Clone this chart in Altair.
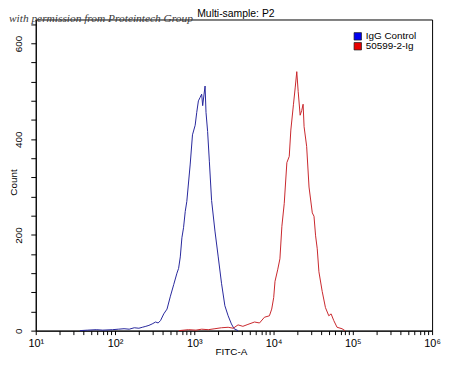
import altair as alt
import pandas as pd

title_text = "Multi-sample: P2"
watermark_text = "with permission from Proteintech Group"
x_title = "FITC-A"
y_title = "Count"
series_names = ["IgG Control", "50599-2-Ig"]
line_colors = ["#26269c", "#c8262c"]
legend_colors = ["#0000f0", "#e80000"]

blue_fitc = [36, 45, 58, 70, 93, 110, 130, 151, 175, 200,
             221, 245, 268, 294, 325, 350, 375, 412, 453, 500,
             550, 604, 634, 666, 698, 732, 769, 805, 889, 949,
             1026, 1074, 1127, 1183, 1239, 1276, 1328, 1368, 1406, 1473,
             1549, 1653, 1823, 2005, 2205, 2431, 2673, 2941, 3177, 3565]
blue_count = [0, 1, 2, 1, 2, 3, 4, 3, 6, 5,
              7, 9, 11, 14, 18, 16, 21, 35, 45, 72,
              96, 120, 130, 154, 194, 215, 249, 270, 348, 409,
              429, 456, 480, 487, 494, 470, 494, 511, 456, 416,
              354, 272, 208, 154, 99, 52, 31, 14, 4, 0]

red_fitc = [638, 845, 1050, 1239, 1500, 1823, 2200, 2673, 3100, 3565,
            4100, 4753, 5757, 6650, 7680, 8870, 9480, 10040, 10430, 11270,
            12030, 12740, 13650, 14060, 14720, 15770, 16520, 17840, 18740, 19630,
            20440, 21650, 22670, 23590, 24280, 26150, 28020, 30820, 32370, 33920,
            35570, 37340, 41080, 45170, 49780, 53200, 57500, 63240, 73000, 79600]
red_count = [0, 2, 1, 3, 2, 4, 6, 7, 5, 12,
             9, 13, 18, 16, 28, 31, 45, 69, 103, 127,
             150, 218, 266, 300, 351, 364, 419, 473, 507, 541,
             500, 450, 460, 473, 426, 385, 300, 246, 239, 198,
             171, 123, 82, 48, 31, 35, 21, 7, 4, 0]

x_decades = [10, 100, 1000, 10000, 100000, 1000000]
x_tick_labels = ["10¹", "10²", "10³", "10⁴", "10⁵", "10⁶"]
y_label_step = 200
y_tick_step = 40
y_max = 650

W, H = 400, 314
FONT = "Liberation Sans"

df = pd.concat([
    pd.DataFrame({"fitc": blue_fitc, "count": blue_count, "series": series_names[0]}),
    pd.DataFrame({"fitc": red_fitc, "count": red_count, "series": series_names[1]}),
], ignore_index=True)

x_values = [m * d for d in x_decades[:-1] for m in range(1, 10)] + [x_decades[-1]]
x_label_expr = " : ".join(
    f"datum.value == {d} ? '{l}'" for d, l in zip(x_decades, x_tick_labels)
) + " : ''"
y_values = list(range(0, y_max, y_tick_step))
y_label_expr = f"datum.value % {y_label_step} == 0 ? datum.label : ''"

lines = alt.Chart(df).mark_line(strokeWidth=1, interpolate="linear").encode(
    x=alt.X(
        "fitc:Q",
        scale=alt.Scale(type="log", domain=[10, 1000000], nice=False),
        axis=alt.Axis(
            values=x_values, labelExpr=x_label_expr, title=x_title,
            tickSize=4, labelPadding=3, labelFontSize=11, titleFontSize=10,
            labelFlush=False, grid=False, labelAlign="center",
            titleX=197, titleY=24, titleBaseline="alphabetic",
        ),
    ),
    y=alt.Y(
        "count:Q",
        scale=alt.Scale(domain=[0, y_max], nice=False),
        axis=alt.Axis(
            values=y_values, labelExpr=y_label_expr, title=y_title,
            tickSize=5, labelPadding=9, labelFontSize=10, titleFontSize=10,
            labelAngle=270, labelAlign="center", labelBaseline="alphabetic",
            labelFlush=False, grid=False,
            titleAngle=270, titleX=-22, titleY=164, titleAlign="center",
            titleBaseline="middle",
        ),
    ),
    color=alt.Color("series:N", scale=alt.Scale(domain=series_names, range=line_colors),
                    legend=None),
)

title_layer = alt.Chart(pd.DataFrame({"t": [title_text]})).mark_text(
    font=FONT, fontSize=10.5, align="center", baseline="alphabetic", color="black"
).encode(text="t:N", x=alt.value(202), y=alt.value(-3))

watermark_layer = alt.Chart(pd.DataFrame({"t": [watermark_text]})).mark_text(
    font="Liberation Serif", fontStyle="italic", fontSize=11.5, align="left",
    baseline="alphabetic", color="#3a3a3a"
).encode(text="t:N", x=alt.value(-27), y=alt.value(3))

legend_layers = []
for i, (name, col) in enumerate(zip(series_names, legend_colors)):
    ld = pd.DataFrame({"label": [name]})
    yy = 17 + 10 * i
    legend_layers.append(
        alt.Chart(ld).mark_square(size=56, filled=True, fill=col, stroke="#1a1a1a",
                                  strokeWidth=0.7, opacity=1)
        .encode(x=alt.value(325), y=alt.value(yy))
    )
    legend_layers.append(
        alt.Chart(ld).mark_text(font=FONT, fontSize=10, align="left", baseline="middle",
                                color="black")
        .encode(text="label:N", x=alt.value(333), y=alt.value(yy))
    )

chart = alt.layer(lines, title_layer, watermark_layer, *legend_layers).properties(
    width=W, height=H,
    autosize=alt.AutoSizeParams(type="none"),
    padding={"left": 28, "top": 10, "right": 10, "bottom": 24},
).configure_view(
    stroke="black", strokeWidth=1
).configure_axis(
    domainColor="black", tickColor="black", labelColor="black", titleColor="black",
    labelFont=FONT, titleFont=FONT, titleFontWeight="normal", domainWidth=1, tickWidth=1,
)

chart.save("out.html", embed_options={"renderer": "svg", "actions": False})
